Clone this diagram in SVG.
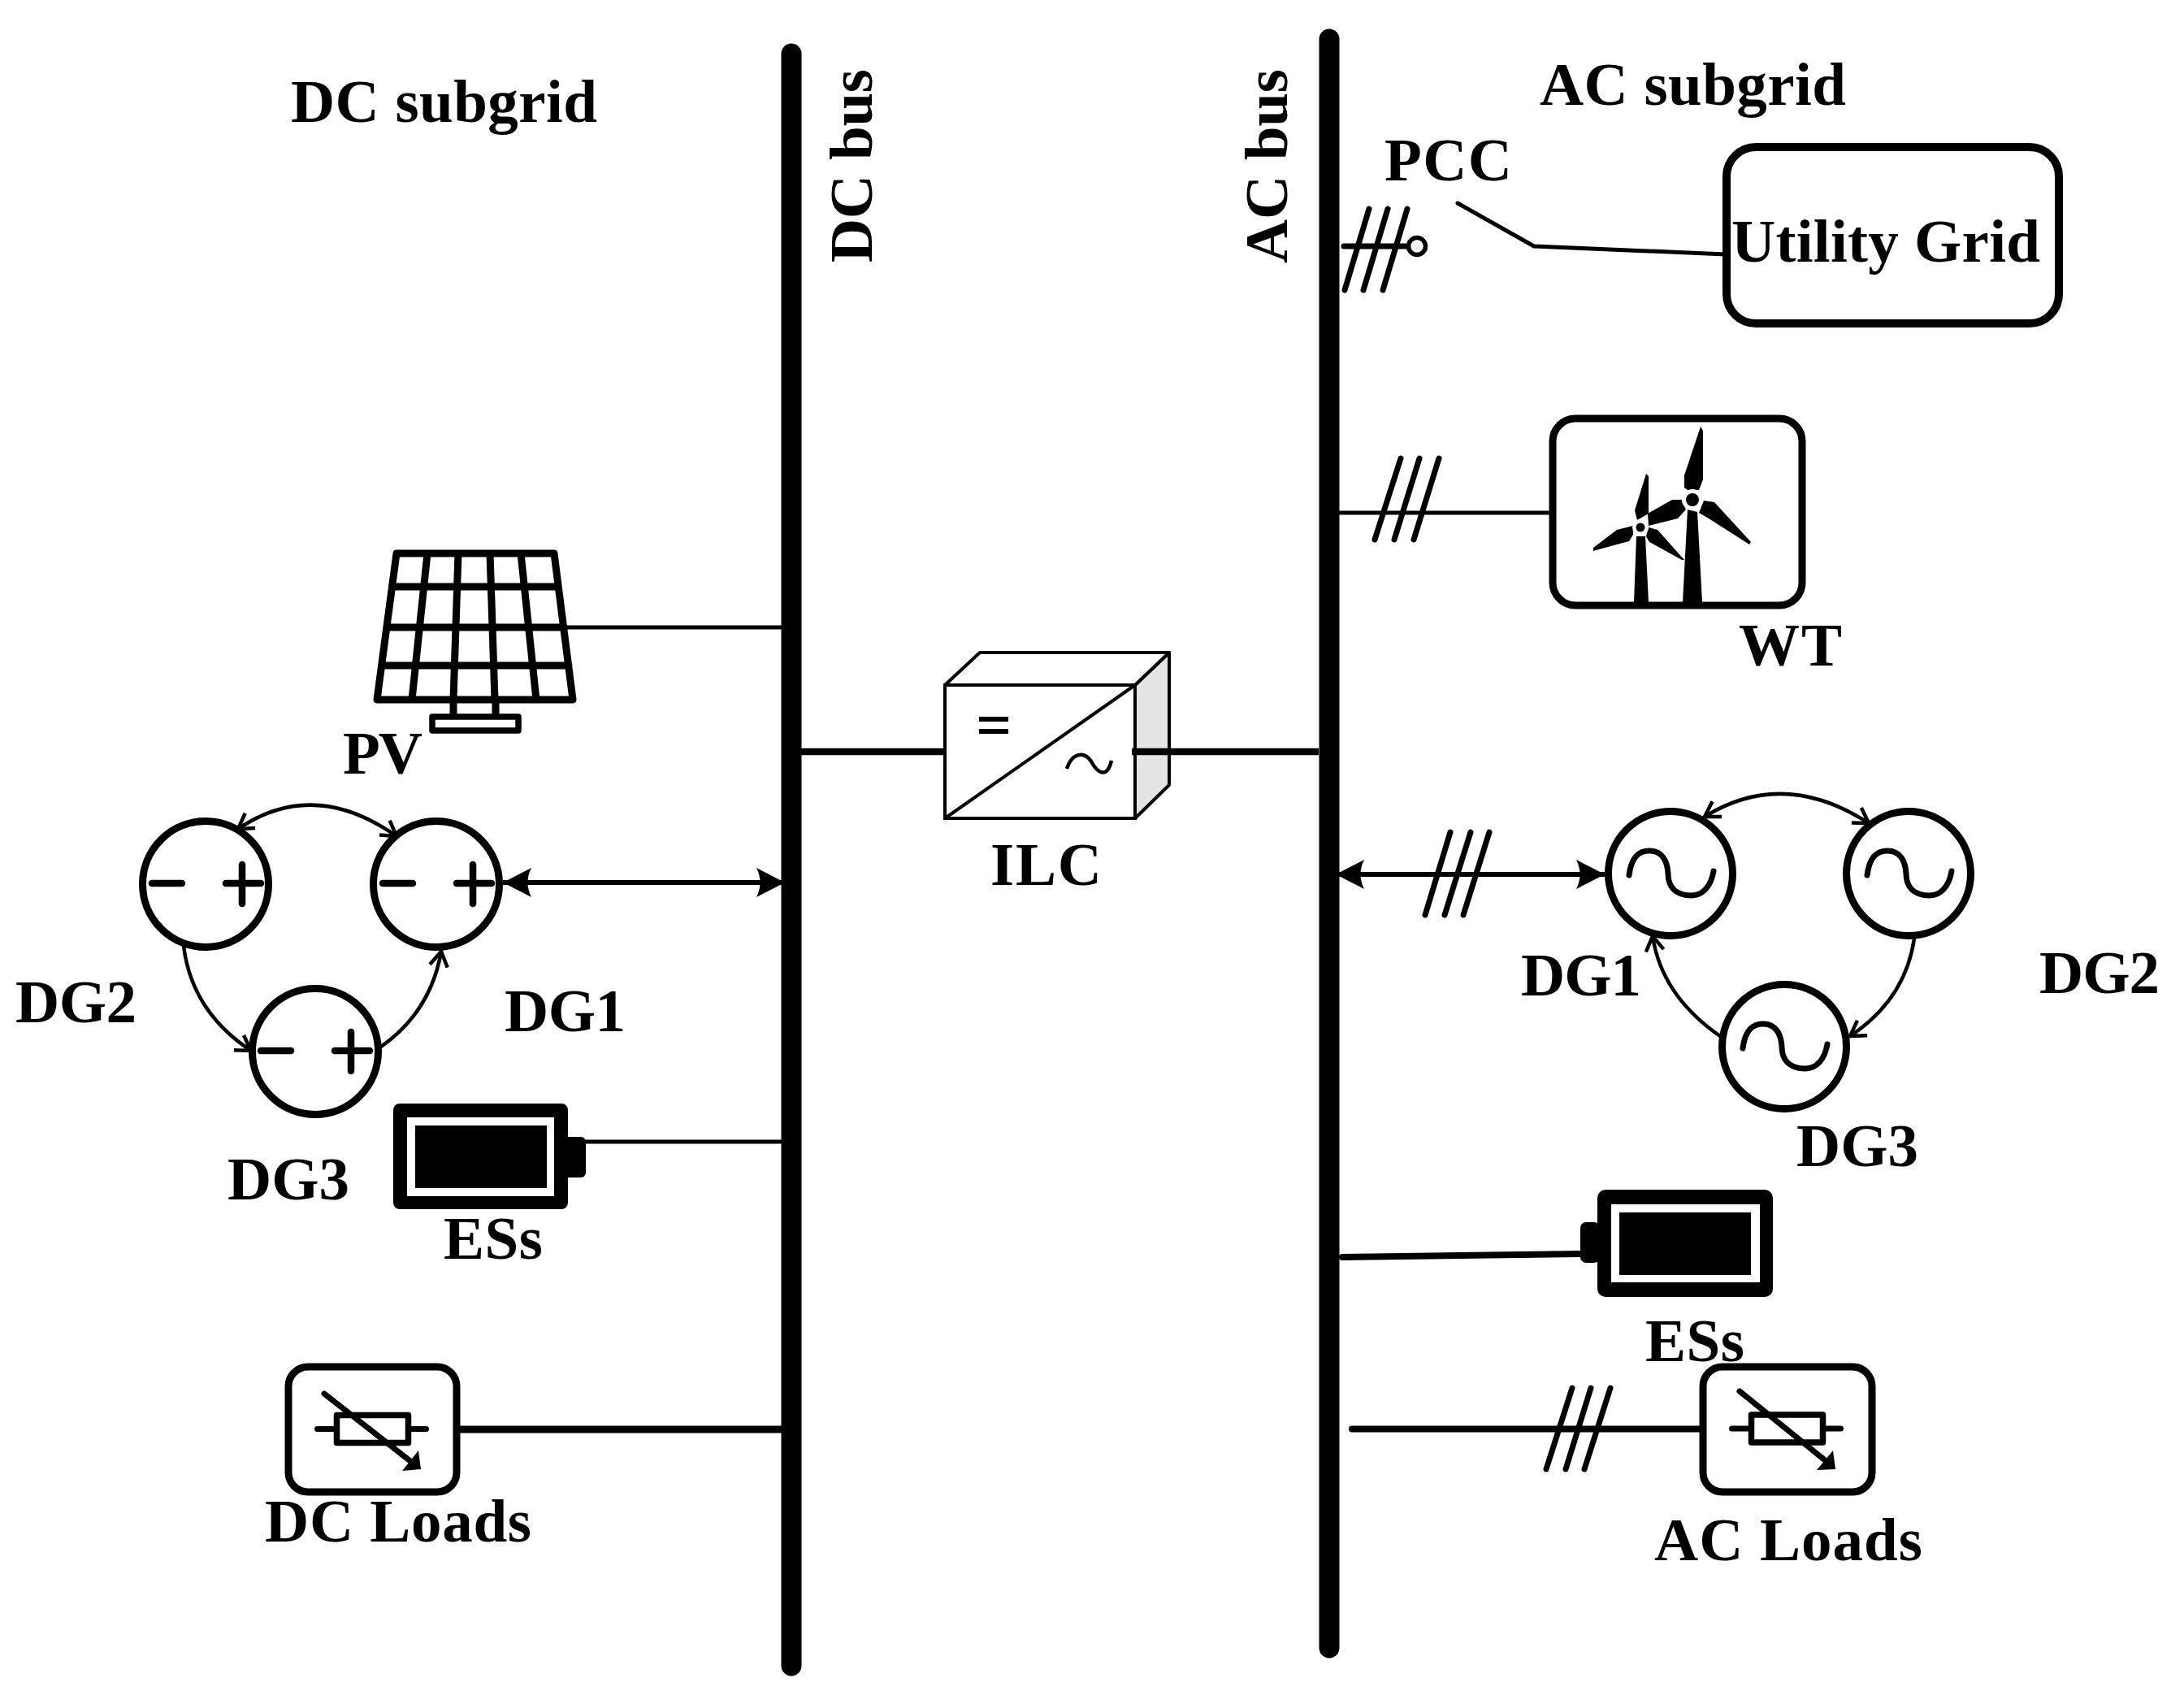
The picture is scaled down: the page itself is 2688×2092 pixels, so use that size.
<svg xmlns="http://www.w3.org/2000/svg" width="2688" height="2092" viewBox="0 0 2688 2092">
<style>
text{font-family:"Liberation Serif","Times New Roman",serif;font-weight:bold;font-size:75px;fill:#000}
.l{fill:none;stroke:#000;stroke-linecap:round;stroke-linejoin:round}
.f{fill:#000;stroke:none}
.w{fill:#fff;stroke:#000}
.c{fill:#fff;stroke:#000;stroke-width:9}
.b{fill:#fff;stroke:#000;stroke-width:9}
.t{fill:none;stroke:#000;stroke-width:7;stroke-linecap:round}
.arc{fill:none;stroke:#000;stroke-width:4.500;stroke-linecap:round}
.dbl{fill:none;stroke:#000;stroke-width:6;marker-start:url(#solid);marker-end:url(#solid)}
.sine{fill:none;stroke:#000;stroke-width:7;stroke-linecap:round}
.sym{fill:none;stroke:#000;stroke-width:8.500;stroke-linecap:round}
</style>
<defs>
<marker id="solid" markerUnits="userSpaceOnUse" markerWidth="40" markerHeight="40" refX="35" refY="20" orient="auto-start-reverse" viewBox="0 0 40 40"><path d="M35 20L0 2Q9 20 0 38Z" fill="#000"/></marker>
<marker id="open" markerUnits="userSpaceOnUse" markerWidth="30" markerHeight="30" refX="24" refY="15" orient="auto-start-reverse" viewBox="0 0 30 30"><path d="M6 4L24 15L6 26" fill="none" stroke="#000" stroke-width="4.500"/></marker>
<g id="resistor"><rect x="-44" y="-17" width="88" height="34" fill="none" stroke="#000" stroke-width="7.500" stroke-linejoin="round"/><path d="M-68 0H-44M44 0H66" class="t"/></g>
<g id="sine"><path class="sine" d="M-51 2C-48-22-38-28-26-28C-10-28-4-15-3 0C-3 15 5 27 26 27C40 27 50 15 53-3"/></g>
<g id="dcsign"><path class="sym" d="M-64-1H-27M27-1H70M47-24V24"/></g>
</defs>
<rect width="2688" height="2092" fill="#fff"/>
<g id="connectors">
<path class="l" stroke-width="5" d="M697 772H961M721 1405H961"/>
<path class="l" stroke-width="9" d="M565 1759H961"/>
<path class="dbl" d="M619 1086H966"/>
<path class="arc" marker-start="url(#open)" marker-end="url(#open)" d="M293 1020Q386 957 488 1029"/>
<path class="arc" marker-end="url(#open)" d="M226 1164Q236 1245 309 1293"/>
<path class="arc" marker-end="url(#open)" d="M469 1288Q530 1245 543 1171"/>
<path class="l" stroke-width="8.500" style="stroke-linecap:butt" d="M986 925H1167M1393 925H1623"/>
<path class="l" stroke-width="5" d="M1794 250L1888 303L2124 313"/>
<path class="l" stroke-width="5" d="M1649 631H1909"/>
<path class="t" d="M1724 564L1692 664M1747 564L1716 664M1771 564L1740 664"/>
<path class="t" d="M1654 303H1732M1685 257L1655 357M1708 257L1678 357M1732 257L1702 357"/>
<path class="dbl" d="M1644 1076H1975"/>
<path class="t" stroke-width="6" d="M1785 1024L1754 1126M1810 1024L1778 1126M1833 1024L1801 1126"/>
<path class="arc" marker-start="url(#open)" marker-end="url(#open)" d="M2098 1005Q2195 945 2300 1013"/>
<path class="arc" marker-end="url(#open)" d="M2356 1155Q2345 1230 2277 1275"/>
<path class="arc" marker-end="url(#open)" d="M2117 1275Q2045 1225 2034 1152"/>
<path class="l" stroke-width="8" d="M1652 1547L1945 1543M1664 1758.500H2094"/>
<path class="t" d="M1935 1708L1903 1808M1958 1708L1927 1808M1982 1708L1950 1808"/>
</g>
<g id="dc-bus"><path class="l" stroke-width="25" d="M974 66V2050"/><text transform="translate(1073 323) rotate(-90)" textLength="238" lengthAdjust="spacing">DC bus</text></g>
<g id="ac-bus"><path class="l" stroke-width="25" d="M1636 48V2028"/><text transform="translate(1584 324) rotate(-90)" textLength="239" lengthAdjust="spacing">AC bus</text></g>
<g id="dc-title"><text x="358" y="150" textLength="377" lengthAdjust="spacing">DC subgrid</text></g>
<g id="ac-title"><text x="1895" y="129" textLength="377" lengthAdjust="spacing">AC subgrid</text></g>
<g id="pv">
<path class="l" stroke-width="9" d="M488 681H682L705 861H464ZM482.500 722H687M476 772H694M470 819H700M526 681L507 861M564 681L558 861M603 681L609 861M641 681L660 861M558 861V879M610 861V879"/>
<rect x="532" y="882" width="106" height="17" class="w" stroke-width="7.500" stroke-linejoin="round"/>
<text x="422" y="952" textLength="98" lengthAdjust="spacing">PV</text>
</g>
<g id="dc-dg2"><circle cx="253" cy="1088" r="77.500" class="c"/><use href="#dcsign" x="251" y="1088"/><text x="19" y="1258" textLength="149" lengthAdjust="spacing">DG2</text></g>
<g id="dc-dg1"><circle cx="537" cy="1088" r="77.500" class="c"/><use href="#dcsign" x="535" y="1088"/><text x="621" y="1269" textLength="149" lengthAdjust="spacing">DG1</text></g>
<g id="dc-dg3"><circle cx="388" cy="1294" r="77.500" class="c"/><use href="#dcsign" x="385" y="1294"/><text x="280" y="1476" textLength="150" lengthAdjust="spacing">DG3</text></g>
<g id="dc-ess">
<rect x="690" y="1399" width="31" height="50" rx="6" class="f"/>
<rect x="484" y="1358" width="215" height="130" rx="8" class="f"/>
<rect x="501" y="1375" width="181" height="97" fill="#fff"/>
<rect x="511" y="1385" width="162" height="77" class="f"/>
<text x="546" y="1549" textLength="122" lengthAdjust="spacing">ESs</text>
</g>
<g id="dc-loads">
<rect x="355" y="1682" width="207" height="154" rx="24" class="b"/>
<use href="#resistor" x="458.500" y="1758.500"/>
<path class="t" d="M399 1715L505 1798"/>
<path class="f" d="M518 1808L515 1785L495 1810Z"/>
<text x="326" y="1897" textLength="328" lengthAdjust="spacing">DC Loads</text>
</g>
<g id="ilc">
<path d="M1397 843L1439 803V966L1397 1007Z" fill="#e4e4e4" stroke="#000" stroke-width="4" stroke-linejoin="round"/>
<path d="M1163 843L1206 803H1439L1397 843Z" fill="#fff" stroke="#000" stroke-width="4" stroke-linejoin="round"/>
<rect x="1163" y="843" width="234" height="164" fill="#fff" stroke="#000" stroke-width="4"/>
<path d="M1163 1007L1397 843" fill="none" stroke="#000" stroke-width="4"/>
<path class="f" d="M1205 882H1241V888H1205ZM1205 897H1241V903H1205Z"/>
<path fill="none" stroke="#000" stroke-width="4.500" d="M1313 946C1320 925 1335 925 1343 937C1350 950 1362 960 1368 936"/>
<text x="1219" y="1089" textLength="137" lengthAdjust="spacing">ILC</text>
</g>
<path class="l" stroke-width="8.500" style="stroke-linecap:butt" d="M1393 925H1439"/>
<g id="pcc">
<circle cx="1744" cy="303" r="10.500" fill="#fff" stroke="#000" stroke-width="5.500"/>
<text x="1704" y="222" textLength="157" lengthAdjust="spacing">PCC</text>
</g>
<g id="utility-grid">
<rect x="2125" y="181" width="409" height="217" rx="36" fill="none" stroke="#000" stroke-width="10"/>
<text x="2131" y="322" textLength="380" lengthAdjust="spacing">Utility Grid</text>
</g>
<g id="wt">
<rect x="1911" y="515" width="307" height="230" rx="28" class="b"/>
<path class="f" d="M2077 627L2089 630L2095 741H2071Z"/>
<path class="f" d="M2093 525L2096 530L2096 590L2091 603H2077L2073 600L2073 585Z"/>
<path class="f" d="M2097 616L2110 618L2155 667L2153 670L2103 638L2091 631Z"/>
<path class="f" d="M2070 615L2058 615L2028 632L2029 647L2065 638L2075 627Z"/>
<circle cx="2083" cy="615" r="13" fill="#fff"/><circle cx="2083" cy="615" r="8" class="f"/>
<path class="f" d="M2014 660L2025 660L2029 741H2011Z"/>
<path class="f" d="M2026 583L2029 586L2029 632L2015 640L2012 628Z"/>
<path class="f" d="M2029 649L2040 652L2073 689L2070 689L2030 667L2026 660Z"/>
<path class="f" d="M2010 647L1990 652L1961 674L1961 678L1990 670L2005 666L2010 658Z"/>
<circle cx="2019" cy="649" r="10" fill="#fff"/><circle cx="2019" cy="649" r="5.500" class="f"/>
<text x="2140" y="819" textLength="127" lengthAdjust="spacing">WT</text>
</g>
<g id="ac-dg1"><circle cx="2056" cy="1075" r="76.500" class="c"/><use href="#sine" x="2056" y="1075"/><text x="1872" y="1225" textLength="148" lengthAdjust="spacing">DG1</text></g>
<g id="ac-dg2"><circle cx="2349" cy="1075" r="76.500" class="c"/><use href="#sine" x="2349" y="1075"/><text x="2510" y="1222" textLength="148" lengthAdjust="spacing">DG2</text></g>
<g id="ac-dg3"><circle cx="2196" cy="1288" r="76.500" class="c"/><use href="#sine" x="2196" y="1288"/><text x="2211" y="1435" textLength="150" lengthAdjust="spacing">DG3</text></g>
<g id="ac-ess">
<rect x="1945" y="1504" width="24" height="50" rx="7" class="f"/>
<rect x="1966" y="1464" width="216" height="132" rx="10" class="f"/>
<rect x="1983" y="1482" width="183" height="96" fill="#fff"/>
<rect x="1993" y="1492" width="162" height="77" class="f"/>
<text x="2025" y="1675" textLength="122" lengthAdjust="spacing">ESs</text>
</g>
<g id="ac-loads">
<rect x="2096" y="1682" width="208" height="154" rx="24" class="b"/>
<use href="#resistor" x="2199.500" y="1758"/>
<path class="t" d="M2141 1712L2245 1796"/>
<path class="f" d="M2259 1808L2256 1785L2236 1809Z"/>
<text x="2036" y="1920" textLength="330" lengthAdjust="spacing">AC Loads</text>
</g>
</svg>
